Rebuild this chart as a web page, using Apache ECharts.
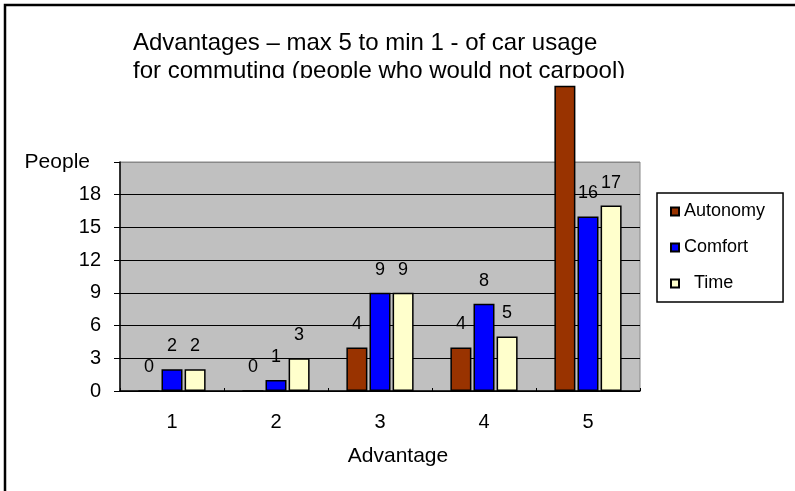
<!DOCTYPE html>
<html><head><meta charset="utf-8">
<script src="https://cdn.jsdelivr.net/npm/echarts@6/dist/echarts.min.js"></script>
<style>html,body{margin:0;padding:0;background:#fff}#c{width:795px;height:491px}</style>
</head><body><div id="c"></div>
<script>
const categories = ['1', '2', '3', '4', '5'];
const seriesNames = ['Autonomy', 'Comfort', 'Time'];
const autonomy = [0, 0, 4, 4, 28];
const comfort = [2, 1, 9, 8, 16];
const time = [2, 3, 9, 5, 17];
const yMin = 0, yMax = 21, yStep = 3;
const titleLines = ['Advantages – max 5 to min 1 - of car usage', 'for commuting (people who would not carpool)'];
const xName = 'Advantage';
const yName = 'People';

const FONT = '"Liberation Sans", Arial, sans-serif';
const colors = ['#993300', '#0000FF', '#FFFFCC'];
const chart = echarts.init(document.getElementById('c'), null, {renderer: 'canvas'});

function mkSeries(name, data, color, hideIdx) {
  return {
    name: name, type: 'bar', clip: false,
    barWidth: 21, barGap: '10%',
    data: data.map((v, i) => hideIdx === i ? {value: v, label: {show: false}} : v),
    itemStyle: {color: color, borderColor: '#000', borderWidth: 1.5},
    label: {show: true, position: 'top', distance: 14, color: '#000', fontSize: 18, fontFamily: FONT},
    emphasis: {disabled: true}
  };
}

chart.setOption({
  animation: false,
  backgroundColor: '#fff',
  graphic: [
    {type: 'rect', shape: {x: 5, y: 5, width: 820, height: 520}, style: {fill: 'none', stroke: '#000', lineWidth: 2.5}, z: 100},
    {type: 'text', x: 133, y: 43.5, z: 1, style: {text: titleLines[0], fontSize: 24, fontFamily: FONT, fill: '#000', verticalAlign: 'middle'}},
    {type: 'text', x: 133, y: 71, z: 1, style: {text: titleLines[1], fontSize: 24, fontFamily: FONT, fill: '#000', verticalAlign: 'middle'}},
    {type: 'rect', z: 2, shape: {x: 120, y: 78, width: 520, height: 6}, style: {fill: '#fff'}}
  ],
  legend: {
    orient: 'vertical', left: 657, top: 193,
    icon: 'rect', itemWidth: 8, itemHeight: 8, itemGap: 15,
    padding: [8, 18, 8, 13],
    borderColor: '#000', borderWidth: 1.5, backgroundColor: '#fff',
    textStyle: {fontSize: 18, lineHeight: 21, color: '#000', fontFamily: FONT},
    formatter: n => n === 'Time' ? '  Time' : n,
    data: seriesNames
  },
  grid: {left: 120, right: 155, top: 162, bottom: 100, show: true, backgroundColor: '#C0C0C0', borderColor: '#888', borderWidth: 1},
  xAxis: {
    type: 'category', data: categories,
    name: xName, nameLocation: 'middle', nameGap: 55,
    nameTextStyle: {fontSize: 21, color: '#000', fontFamily: FONT, padding: [0, 0, 0, 36]},
    axisLine: {lineStyle: {color: '#000', width: 1.5}},
    axisTick: {show: true, inside: true, length: 3, lineStyle: {color: '#000'}},
    axisLabel: {fontSize: 20, color: '#000', fontFamily: FONT, margin: 21}
  },
  yAxis: {
    type: 'value', min: yMin, max: yMax, interval: yStep,
    axisLine: {show: true, lineStyle: {color: '#000', width: 1.5}},
    axisTick: {show: true, length: 6, lineStyle: {color: '#000'}},
    axisLabel: {
      fontSize: 20, color: '#000', fontFamily: FONT, margin: 19,
      formatter: v => v === yMax ? '{p|' + yName + '}' : String(v),
      rich: {p: {fontSize: 21, color: '#000', fontFamily: FONT, padding: [0, 11, 0, 0]}}
    },
    splitLine: {show: true, lineStyle: {color: ['#000', '#000', '#000', '#000', '#000', '#000', '#000', '#888'], width: 1.2}}
  },
  series: [
    mkSeries(seriesNames[0], autonomy, colors[0], 4),
    mkSeries(seriesNames[1], comfort, colors[1]),
    mkSeries(seriesNames[2], time, colors[2])
  ]
});
</script></body></html>
